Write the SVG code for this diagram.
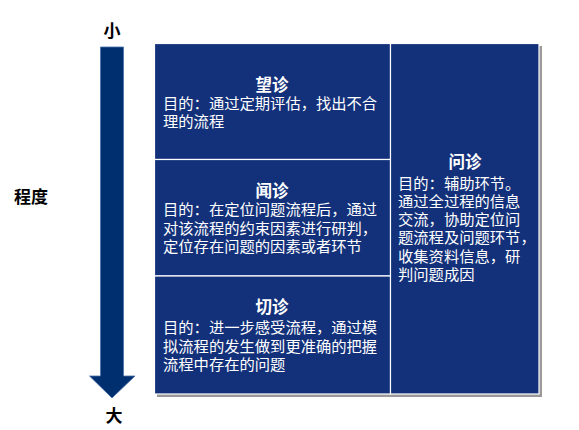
<svg xmlns="http://www.w3.org/2000/svg" width="579" height="430" viewBox="0 0 579 430">
<style>
.t{font-family:"Liberation Sans","Noto Sans CJK SC",sans-serif;fill:#fff;font-size:15.3px}
.h{font-family:"Liberation Sans","Noto Sans CJK SC",sans-serif;fill:#fff;font-size:16.5px;font-weight:bold;text-anchor:middle}
.k{font-family:"Liberation Sans","Noto Sans CJK SC",sans-serif;fill:#000;font-size:17px;font-weight:bold}
.cell{fill:#13317A;stroke:#fff;stroke-width:1.2}
</style>
<rect width="579" height="430" fill="#fff"/>
<g id="scale">
<path d="M100.5,47 H123.5 V376 H135 L112,398 L89.5,376 H100.5 Z" fill="#002F6F" stroke="#4C6EA8" stroke-width="0.8"/>
<text class="k" x="112" y="37" text-anchor="middle">小</text>
<text class="k" x="114" y="422" text-anchor="middle">大</text>
<text class="k" x="14" y="203">程度</text>
</g>
<rect x="157" y="46" width="385" height="351" fill="#999"/>
<g id="wang">
<rect class="cell" x="154.5" y="43.5" width="236" height="116"/>
<text class="h" x="272" y="91">望诊</text>
<text class="t" x="163" y="109">目的：通过定期评估，找出不合</text>
<text class="t" x="163" y="127">理的流程</text>
</g>
<g id="wen">
<rect class="cell" x="154.5" y="159.5" width="236" height="116.5"/>
<text class="h" x="272" y="197">闻诊</text>
<text class="t" x="163" y="215">目的：在定位问题流程后，通过</text>
<text class="t" x="163" y="233.5">对该流程的约束因素进行研判，</text>
<text class="t" x="163" y="252">定位存在问题的因素或者环节</text>
</g>
<g id="qie">
<rect class="cell" x="154.5" y="276" width="236" height="118"/>
<text class="h" x="272" y="313">切诊</text>
<text class="t" x="163" y="333">目的：进一步感受流程，通过模</text>
<text class="t" x="163" y="351.5">拟流程的发生做到更准确的把握</text>
<text class="t" x="163" y="370">流程中存在的问题</text>
</g>
<g id="wen2">
<rect class="cell" x="390.5" y="43.5" width="148.5" height="350.5"/>
<text class="h" x="465" y="168">问诊</text>
<text class="t" x="398" y="189">目的：辅助环节。</text>
<text class="t" x="398" y="207">通过全过程的信息</text>
<text class="t" x="398" y="225">交流，协助定位问</text>
<text class="t" x="398" y="243">题流程及问题环节，</text>
<text class="t" x="398" y="261.5">收集资料信息，研</text>
<text class="t" x="398" y="279.5">判问题成因</text>
</g>
<g id="connectors"></g>
</svg>
